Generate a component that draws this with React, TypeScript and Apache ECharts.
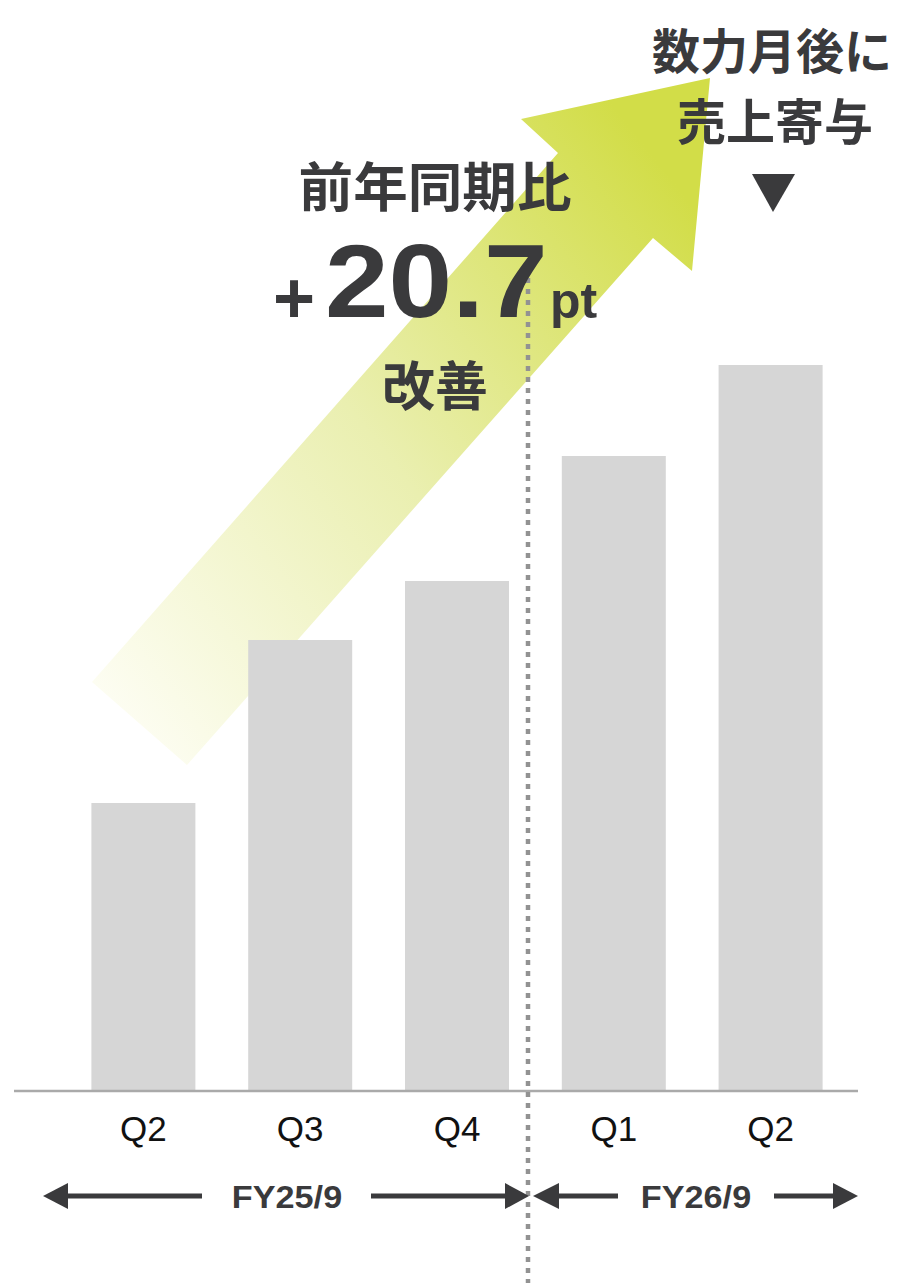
import React, { useEffect, useRef } from "react";
import * as echarts from "echarts";

const categories = ["Q2", "Q3", "Q4", "Q1", "Q2"];
const values = [287, 450, 509, 634, 725];
const periodLabels = ["FY25/9", "FY26/9"];
const headline = ["前年同期比", "+", "20.7", "pt", "改善"];
const noteLines = ["数力月後に", "売上寄与"];

const DARK = "#3a3a3c";
const CJK = "'Noto Sans CJK JP', 'Noto Sans', sans-serif";
const LATIN = "'Liberation Sans', Arial, Helvetica, sans-serif";

export default function App() {
  const ref = useRef<HTMLDivElement>(null);
  useEffect(() => {
    if (!ref.current) return;
    const chart = echarts.init(ref.current, null, { renderer: "svg" });
    const grad = new echarts.graphic.LinearGradient(
      92,
      720,
      712,
      230,
      [
        { offset: 0, color: "#fefef6" },
        { offset: 0.5, color: "#eaefb0" },
        { offset: 1, color: "#d2dd48" },
      ],
      true
    );
    const arrowLine = (x1: number, x2: number, y: number) => ({
      type: "line",
      z: 100,
      shape: { x1, y1: y, x2, y2: y },
      style: { stroke: DARK, lineWidth: 5 },
    });
    const head = (tipX: number, baseX: number, y: number) => ({
      type: "polygon",
      z: 100,
      shape: { points: [[tipX, y], [baseX, y - 13], [baseX, y + 13]] },
      style: { fill: DARK },
    });
    const txt = (
      text: string,
      x: number,
      y: number,
      font: string,
      align: string = "center",
      scaleX: number = 1
    ) => ({
      type: "text",
      z: 100,
      x,
      y,
      scaleX,
      style: {
        text,
        x: 0,
        y: 0,
        align,
        verticalAlign: "middle",
        fill: DARK,
        font,
      },
    });
    const option: any = {
      animation: false,
      backgroundColor: "#ffffff",
      grid: { left: 65, right: 53, top: 90, bottom: 193 },
      xAxis: {
        type: "category",
        data: categories,
        axisLine: { show: false },
        axisTick: { show: false },
        axisLabel: {
          color: "#111111",
          fontSize: 35,
          fontFamily: LATIN,
          margin: 21,
        },
      },
      yAxis: {
        type: "value",
        min: 0,
        max: 1000,
        show: false,
        splitLine: { show: false },
      },
      series: [
        {
          type: "bar",
          data: values,
          barWidth: 104,
          itemStyle: { color: "#d6d6d6" },
          z: 5,
        },
      ],
      graphic: [
        {
          type: "polygon",
          z: 1,
          shape: {
            points: [
              [92, 682],
              [558, 153],
              [521, 119],
              [710, 78],
              [692, 271],
              [653, 238],
              [187, 765],
            ],
          },
          style: { fill: grad },
        },
        {
          type: "line",
          z: 50,
          shape: { x1: 14, y1: 1091, x2: 858, y2: 1091 },
          style: { stroke: "#aaaaaa", lineWidth: 2.5 },
        },
        {
          type: "line",
          z: 60,
          shape: { x1: 528, y1: 278, x2: 528, y2: 1283 },
          style: { stroke: "#929292", lineWidth: 4.5, lineDash: [5, 6] },
        },
        txt(headline[0], 435, 184, `bold 53px ${CJK}`, "center", 1.03),
        txt(headline[1], 273, 298, `bold 72px ${LATIN}`, "left"),
        txt(headline[2], 325, 281, `bold 104px ${LATIN}`, "left", 1.1),
        txt(headline[3], 550, 301, `bold 50px ${LATIN}`, "left"),
        txt(headline[4], 435, 383, `bold 53px ${CJK}`),
        txt(noteLines[0], 772, 48, `bold 48px ${CJK}`),
        txt(noteLines[1], 775, 118, `bold 49px ${CJK}`),
        {
          type: "polygon",
          z: 100,
          shape: { points: [[752, 174], [795, 174], [773, 212]] },
          style: { fill: DARK },
        },
        txt(periodLabels[0], 287, 1197, `bold 32px ${LATIN}`, "center", 1.07),
        txt(periodLabels[1], 696, 1197, `bold 32px ${LATIN}`, "center", 1.07),
        arrowLine(64, 202, 1196),
        head(43, 68, 1196),
        arrowLine(371, 508, 1196),
        head(529, 505, 1196),
        arrowLine(556, 618, 1196),
        head(533, 559, 1196),
        arrowLine(774, 836, 1196),
        head(858, 833, 1196),
      ],
    };
    chart.setOption(option);
    return () => chart.dispose();
  }, []);
  return (
    <div
      ref={ref}
      style={{ position: "absolute", left: 0, top: 0, width: 902, height: 1283 }}
    />
  );
}
